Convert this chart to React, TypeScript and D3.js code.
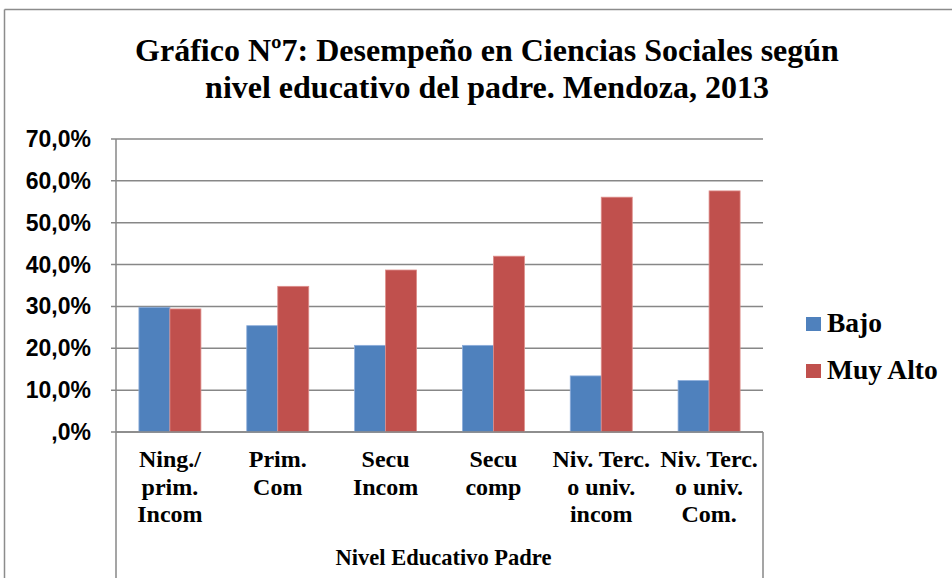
import React from "react";
import * as d3 from "d3";

const categories: string[][] = [
  ["Ning./", "prim.", "Incom"],
  ["Prim.", "Com"],
  ["Secu", "Incom"],
  ["Secu", "comp"],
  ["Niv. Terc.", "o univ.", "incom"],
  ["Niv. Terc.", "o univ.", "Com."],
];
const seriesNames = ["Bajo", "Muy Alto"];
const bajo = [29.8, 25.4, 20.7, 20.7, 13.4, 12.3];
const muyAlto = [29.4, 34.8, 38.7, 42.0, 56.1, 57.6];
const yTicks = [0, 10, 20, 30, 40, 50, 60, 70];
const colors = ["#4F81BD", "#C0504D"];
const title = [
  "Gráfico Nº7: Desempeño en Ciencias Sociales según",
  "nivel educativo del padre. Mendoza, 2013",
];
const axisTitle = "Nivel Educativo Padre";

export default function App() {
  const W = 952, H = 578;
  const left = 116, right = 763, top = 139, bottom = 432;
  const keys = categories.map((_, i) => String(i));
  const x = d3.scaleBand<string>().domain(keys).range([left, right]).paddingInner(0.425).paddingOuter(0.2125);
  const xs = d3.scaleBand<string>().domain(seriesNames).range([0, x.bandwidth()]);
  const y = d3.scaleLinear().domain([0, 70]).range([bottom, top]);
  const series = [bajo, muyAlto];
  const fmt = (v: number) => (v === 0 ? ",0%" : d3.format(".1f")(v).replace(".", ",") + "%");
  const grid = "#878787";
  const serif = "'Liberation Serif', 'Times New Roman', serif";
  const sans = "'Liberation Sans', Arial, sans-serif";
  return (
    <svg width={W} height={H} style={{ position: "absolute", left: 0, top: 0, background: "#fff" }}>
      <rect x={0} y={0} width={W} height={H} fill="#fff" />
      {/* outer border */}
      <line x1={4.5} y1={9.5} x2={W} y2={9.5} stroke="#8c8c8c" strokeWidth={1.5} />
      <line x1={4.5} y1={9.5} x2={4.5} y2={H} stroke="#8c8c8c" strokeWidth={1.5} />
      {/* title */}
      <text x={487} textAnchor="middle" fontFamily={serif} fontWeight="bold" fontSize={32} fill="#000">
        <tspan x={487} y={61}>{title[0]}</tspan>
        <tspan x={487} y={98}>{title[1]}</tspan>
      </text>
      {/* gridlines */}
      {yTicks.map((t) => (
        <g key={t}>
          <line x1={left - 5} x2={right} y1={y(t)} y2={y(t)} stroke={grid} strokeWidth={1.5} />
          <text x={91} y={y(t) + 8} textAnchor="end" fontFamily={sans} fontWeight="bold" fontSize={23} fill="#000">
            {fmt(t)}
          </text>
        </g>
      ))}
      {/* bars */}
      {categories.map((_, i) =>
        series.map((s, j) => (
          <rect
            key={i + "-" + j}
            x={(x(keys[i]) as number) + (xs(seriesNames[j]) as number)}
            y={y(s[i])}
            width={xs.bandwidth()}
            height={y(0) - y(s[i])}
            fill={colors[j]}
            stroke={j === 0 ? "#8eaedb" : "#de8e8b"}
            strokeWidth={0.8}
          />
        ))
      )}
      {/* axes */}
      <line x1={left} x2={left} y1={top} y2={H} stroke={grid} strokeWidth={1.5} />
      <line x1={right} x2={right} y1={bottom} y2={H} stroke={grid} strokeWidth={1.5} />
      <line x1={left} x2={right} y1={bottom} y2={bottom} stroke={grid} strokeWidth={1.5} />
      {/* category labels */}
      {categories.map((lines, i) => {
        const cx = (x(keys[i]) as number) + x.bandwidth() / 2;
        return (
          <text key={i} textAnchor="middle" fontFamily={serif} fontWeight="bold" fontSize={24} fill="#000">
            {lines.map((l, k) => (
              <tspan key={k} x={cx} y={467 + k * 27.5}>{l}</tspan>
            ))}
          </text>
        );
      })}
      <text x={(left + right) / 2 + 4} y={565} textAnchor="middle" fontFamily={serif} fontWeight="bold" fontSize={22.5} fill="#000">
        {axisTitle}
      </text>
      {/* legend */}
      {seriesNames.map((n, j) => (
        <g key={n}>
          <rect x={806} y={317 + j * 47} width={15} height={14} fill={colors[j]} />
          <text x={827} y={332 + j * 46.5} fontFamily={serif} fontWeight="bold" fontSize={27.5} fill="#000">{n}</text>
        </g>
      ))}
    </svg>
  );
}
